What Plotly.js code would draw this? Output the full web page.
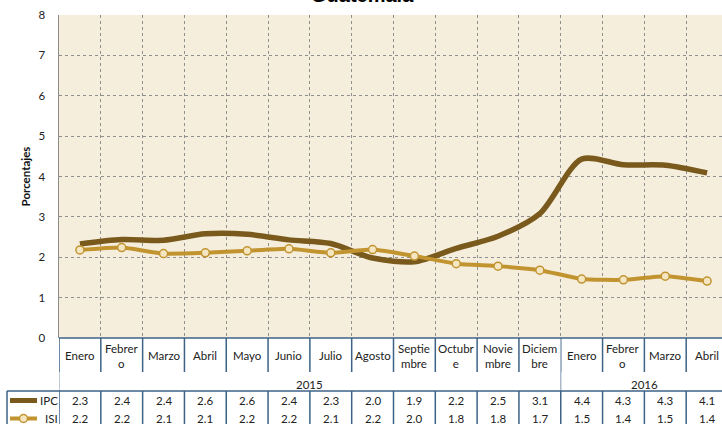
<!DOCTYPE html>
<html>
<head>
<meta charset="utf-8">
<script src="https://cdn.plot.ly/plotly-3.0.1.min.js"></script>
<style>html,body{margin:0;padding:0;background:#fff;}#chart{width:722px;height:424px;}</style>
</head>
<body>
<div id="chart"></div>
<script>
// ---- data ----
const categories = ["Enero","Febrer<br>o","Marzo","Abril","Mayo","Junio","Julio","Agosto","Septie<br>mbre","Octubr<br>e","Novie<br>mbre","Diciem<br>bre","Enero","Febrer<br>o","Marzo","Abril"];
const years = ["2015","2016"];
const yearSpans = [[0,11],[12,15]];
const ipc = [2.33,2.44,2.42,2.58,2.57,2.43,2.34,1.98,1.89,2.22,2.52,3.08,4.43,4.29,4.28,4.09];
const isi = [2.18,2.24,2.09,2.11,2.16,2.21,2.11,2.19,2.03,1.84,1.78,1.68,1.46,1.44,1.53,1.41];
const seriesNames = ["IPC","ISI"];
const yTicks = [0,1,2,3,4,5,6,7,8];

// ---- geometry helpers ----
const W = 722, H = 424;
const M = {l:59, r:0, t:15, b:86};
const plotH = H - M.t - M.b;   // 323
const plotW = W - M.l - M.r;   // 663
const py = p => (H - M.b - p) / plotH;   // pixel y -> paper y
const px = p => (p - M.l) / plotW;       // pixel x -> paper x

const font = "Lato, 'Open Sans', Arial, sans-serif";
const ipcColor = "#7a5a1c";
const isiColor = "#c29430";
const borderDark = "#3d6287";
const borderLight = "#a9b9c9";

const xs = categories.map((_, i) => i);

const traces = [
  {x: xs, y: ipc, type: "scatter", mode: "lines", name: seriesNames[0],
   line: {color: ipcColor, width: 5.5, shape: "spline", smoothing: 0.8}, hoverinfo: "skip"},
  {x: xs, y: isi, type: "scatter", mode: "lines+markers", name: seriesNames[1],
   line: {color: isiColor, width: 4, shape: "spline", smoothing: 0.5},
   marker: {symbol: "circle", size: 8, color: "#f5e6c2", line: {color: isiColor, width: 1.5}}, hoverinfo: "skip"}
];

const shapes = [];
const annotations = [];

// category row borders
for (let i = -1; i < categories.length; i++) {
  shapes.push({type: "line", xref: "x", yref: "paper", x0: i + 0.5, x1: i + 0.5,
    y0: py(338), y1: py(372), line: {color: borderDark, width: 1.5}});
}
// year row borders
shapes.push({type: "line", xref: "x", yref: "paper", x0: -0.5, x1: -0.5, y0: py(372), y1: py(391), line: {color: borderLight, width: 1.5}});
shapes.push({type: "line", xref: "x", yref: "paper", x0: 11.5, x1: 11.5, y0: py(338), y1: py(391), line: {color: borderLight, width: 1.5}});
// table top border
shapes.push({type: "line", xref: "paper", yref: "paper", x0: px(7), x1: 1.05, y0: py(391), y1: py(391), line: {color: borderDark, width: 1.5}});
// table vertical borders
shapes.push({type: "line", xref: "paper", yref: "paper", x0: px(7), x1: px(7), y0: py(391), y1: py(430), line: {color: borderDark, width: 1.5}});
for (let i = -1; i < categories.length; i++) {
  shapes.push({type: "line", xref: "x", yref: "paper", x0: i + 0.5, x1: i + 0.5,
    y0: py(391), y1: py(430), line: {color: borderDark, width: 1.5}});
}
// legend keys
shapes.push({type: "line", xref: "paper", yref: "paper", x0: px(10), x1: px(37), y0: py(400.5), y1: py(400.5), line: {color: ipcColor, width: 5}});
shapes.push({type: "line", xref: "paper", yref: "paper", x0: px(10), x1: px(37), y0: py(418.5), y1: py(418.5), line: {color: isiColor, width: 4}});
shapes.push({type: "circle", xref: "paper", yref: "paper", xsizemode: "pixel", ysizemode: "pixel",
  xanchor: px(23.5), yanchor: py(418.5), x0: -4, x1: 4, y0: -4, y1: 4,
  fillcolor: "#f5e6c2", line: {color: isiColor, width: 1.5}});

// category labels
categories.forEach((c, i) => {
  annotations.push({x: i, xref: "x", y: py(355.5), yref: "paper", text: c, showarrow: false,
    xanchor: "center", yanchor: "middle", font: {family: font, size: 11.5, color: "#222"}});
});
// year labels
years.forEach((yv, k) => {
  annotations.push({x: (yearSpans[k][0] + yearSpans[k][1]) / 2, xref: "x", y: py(384.5), yref: "paper",
    text: yv, showarrow: false, xanchor: "center", yanchor: "middle", font: {family: font, size: 11.5, color: "#222"}});
});
// table values
[ipc, isi].forEach((arr, r) => {
  const yy = r === 0 ? 400.5 : 418;
  arr.forEach((v, i) => {
    annotations.push({x: i, xref: "x", y: py(yy), yref: "paper", text: v.toFixed(1), showarrow: false,
      xanchor: "center", yanchor: "middle", font: {family: font, size: 11.5, color: "#222"}});
  });
  annotations.push({x: px(59), xref: "paper", y: py(yy), yref: "paper", text: seriesNames[r], showarrow: false,
    xanchor: "right", yanchor: "middle", borderpad: 0, font: {family: font, size: 11.5, color: "#222"}});
});
// title
annotations.push({x: px(362), xref: "paper", y: py(-5), yref: "paper", text: "<b>Guatemala</b>", showarrow: false,
  xanchor: "center", yanchor: "middle", font: {family: "Arial, sans-serif", size: 20, color: "#000"}});

const boundaries = [];
for (let i = -1; i < categories.length; i++) boundaries.push(i + 0.5);

const layout = {
  width: W, height: H,
  margin: M,
  paper_bgcolor: "#ffffff",
  plot_bgcolor: "#f5eedd",
  showlegend: false,
  xaxis: {
    range: [-0.5, 15.5 - 6 / 41.8],
    tickmode: "array", tickvals: boundaries, showticklabels: false, ticks: "",
    showgrid: true, gridcolor: "#8f8f8f", griddash: "dot", gridwidth: 1,
    zeroline: false, showline: false, fixedrange: true
  },
  yaxis: {
    range: [0, 8], tickmode: "array", tickvals: yTicks, ticktext: yTicks.map(String),
    ticks: "", ticklabelstandoff: 10,
    tickfont: {family: font, size: 11.5, color: "#222"},
    showgrid: true, gridcolor: "#8f8f8f", griddash: "dot", gridwidth: 1,
    zeroline: false, showline: true, linecolor: "#8c8c8c", linewidth: 1.5,
    title: {text: "<b>Porcentajes</b>", font: {family: font, size: 11.5, color: "#111"}, standoff: 5},
    fixedrange: true
  },
  shapes: shapes,
  annotations: annotations
};
// x axis line at zero (dark blue)
shapes.push({type: "line", xref: "paper", yref: "paper", x0: 0, x1: 1, y0: 0, y1: 0, line: {color: borderDark, width: 1.5}});

Plotly.newPlot("chart", traces, layout, {displayModeBar: false, staticPlot: true});
</script>
</body>
</html>
